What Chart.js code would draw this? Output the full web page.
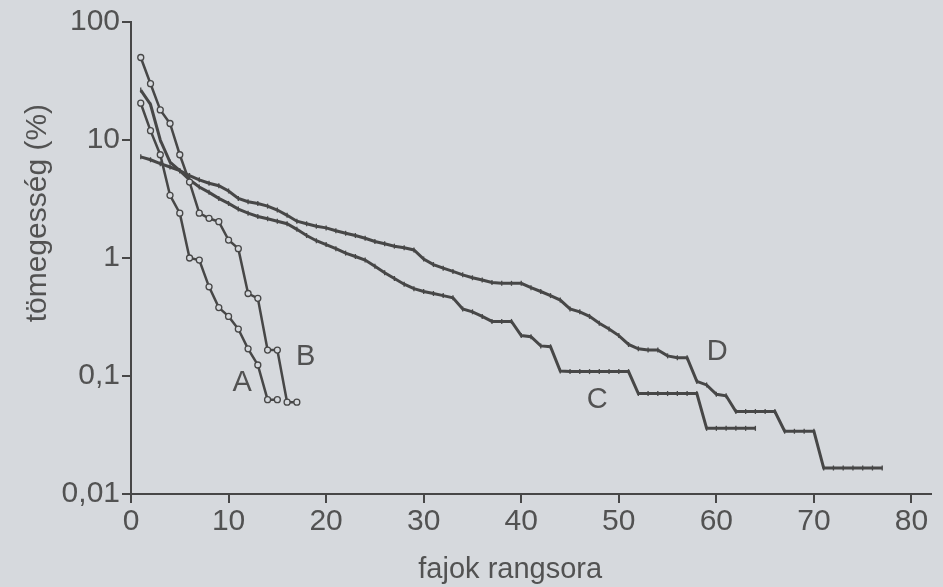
<!DOCTYPE html>
<html>
<head>
    <meta charset="utf-8">
    <title>Fajok rangsora</title>
    <script src="https://cdn.jsdelivr.net/npm/chart.js"></script>
    <style>
        body {
            margin: 0;
            background-color: #d6d9dd;
        }
        #wrap {
            width: 943px;
            height: 587px;
        }
    </style>
</head>
<body>
    <div id="wrap"><canvas id="rankChart"></canvas></div>

    <script>
        // tömegesség (%) by rank, one value per species rank starting at 1
        const seriesA = [20.5, 12, 7.5, 3.4, 2.4, 1.0, 0.96, 0.57, 0.38, 0.32, 0.25, 0.17, 0.124, 0.063, 0.063];
        const seriesB = [50, 30, 18, 13.8, 7.5, 4.4, 2.4, 2.17, 2.03, 1.42, 1.2, 0.5, 0.455, 0.166, 0.166, 0.06, 0.06];
        const seriesC = [26.5, 20, 10, 6.5, 5.5, 4.6, 4.0, 3.6, 3.2, 2.9,
            2.6, 2.4, 2.25, 2.15, 2.05, 1.95, 1.75, 1.55, 1.4, 1.3,
            1.2, 1.1, 1.03, 0.96, 0.85, 0.75, 0.67, 0.6, 0.55, 0.52,
            0.5, 0.48, 0.46, 0.37, 0.35, 0.32, 0.29, 0.29, 0.29, 0.22,
            0.215, 0.18, 0.177, 0.11, 0.109, 0.109, 0.109, 0.109, 0.109, 0.109,
            0.109, 0.071, 0.071, 0.071, 0.071, 0.071, 0.071, 0.071, 0.036, 0.036,
            0.036, 0.036, 0.036, 0.036];
        const seriesD = [7.2, 6.8, 6.3, 5.9, 5.5, 5.0, 4.6, 4.3, 4.1, 3.7,
            3.2, 3.0, 2.9, 2.75, 2.55, 2.3, 2.05, 1.95, 1.86, 1.8,
            1.7, 1.62, 1.55, 1.47, 1.38, 1.32, 1.26, 1.22, 1.17, 0.98,
            0.88, 0.82, 0.77, 0.72, 0.68, 0.65, 0.62, 0.61, 0.61, 0.61,
            0.56, 0.52, 0.48, 0.44, 0.37, 0.35, 0.32, 0.28, 0.25, 0.22,
            0.185, 0.17, 0.166, 0.166, 0.148, 0.143, 0.143, 0.09, 0.084, 0.07,
            0.068, 0.05, 0.05, 0.05, 0.05, 0.05, 0.034, 0.034, 0.034, 0.034,
            0.0166, 0.0166, 0.0166, 0.0166, 0.0166, 0.0166, 0.0166];

        const xTicks = [0, 10, 20, 30, 40, 50, 60, 70, 80];
        const yTicks = [0.01, 0.1, 1, 10, 100];
        const xTitle = 'fajok rangsora';
        const yTitle = 'tömegesség (%)';

        // curve names written next to the lines (rank, value)
        const curveNames = ['A', 'B', 'C', 'D'];
        const curveNameRank = [11.4, 17.9, 47.8, 60.1];
        const curveNameValue = [0.087, 0.145, 0.063, 0.16];

        const BG = '#d6d9dd';
        const INK = '#474747';
        const TEXT = '#525252';
        const FONT = "'Liberation Sans', Arial, sans-serif";

        function toPoints(values) {
            return values.map((v, i) => ({ x: i + 1, y: v }));
        }

        const background = {
            id: 'background',
            beforeDraw(chart) {
                const c = chart.ctx;
                c.save();
                c.fillStyle = BG;
                c.fillRect(0, 0, chart.width, chart.height);
                c.restore();
            }
        };

        // curve letters plus the two axis titles (the originals sit off-centre)
        const annotations = {
            id: 'annotations',
            afterDraw(chart) {
                const c = chart.ctx;
                const xs = chart.scales.x, ys = chart.scales.y;
                const area = chart.chartArea;
                c.save();
                c.fillStyle = TEXT;
                c.textAlign = 'center';
                c.textBaseline = 'middle';
                c.font = '29px ' + FONT;
                curveNames.forEach((name, i) => {
                    c.fillText(name, xs.getPixelForValue(curveNameRank[i]), ys.getPixelForValue(curveNameValue[i]));
                });

                c.font = '29px ' + FONT;
                c.fillText(xTitle, area.left + (area.right - area.left) * 0.474, chart.height - 17);

                c.translate(38, area.top + (area.bottom - area.top) * 0.405);
                c.rotate(-Math.PI / 2);
                c.font = '30px ' + FONT;
                c.fillText(yTitle, 0, 0);
                c.restore();
            }
        };

        const circleSet = (values) => ({
            data: toPoints(values),
            borderColor: INK,
            borderWidth: 2.5,
            pointStyle: 'circle',
            pointRadius: 3,
            pointBorderWidth: 1.3,
            pointBackgroundColor: BG,
            pointBorderColor: INK
        });

        const tickSet = (values) => ({
            data: toPoints(values),
            borderColor: INK,
            borderWidth: 3,
            pointStyle: 'line',
            rotation: 90,
            pointRadius: 2.5,
            pointBorderWidth: 1.3,
            pointBorderColor: INK
        });

        var ctx = document.getElementById('rankChart').getContext('2d');
        var rankChart = new Chart(ctx, {
            type: 'line',
            data: {
                datasets: [
                    Object.assign({ label: 'A' }, circleSet(seriesA)),
                    Object.assign({ label: 'B' }, circleSet(seriesB)),
                    Object.assign({ label: 'C' }, tickSet(seriesC)),
                    Object.assign({ label: 'D' }, tickSet(seriesD))
                ]
            },
            options: {
                responsive: true,
                maintainAspectRatio: false,
                animation: false,
                layout: {
                    padding: { top: 22, right: 12, left: 0, bottom: 0 }
                },
                plugins: {
                    legend: { display: false },
                    tooltip: { enabled: false }
                },
                scales: {
                    x: {
                        type: 'linear',
                        min: 0,
                        max: 82,
                        border: { color: INK, width: 2 },
                        grid: { drawOnChartArea: false, drawTicks: true, tickLength: 9, color: INK, lineWidth: 2 },
                        afterBuildTicks: s => { s.ticks = xTicks.map(v => ({ value: v })); },
                        ticks: {
                            color: TEXT,
                            font: { family: FONT, size: 30 },
                            padding: 1,
                            maxRotation: 0
                        },
                        afterFit: s => { s.height = 93; }
                    },
                    y: {
                        type: 'logarithmic',
                        min: 0.01,
                        max: 100,
                        border: { color: INK, width: 2 },
                        grid: { drawOnChartArea: false, drawTicks: true, tickLength: 9, color: INK, lineWidth: 2 },
                        afterBuildTicks: s => { s.ticks = yTicks.map(v => ({ value: v })); },
                        ticks: {
                            color: TEXT,
                            font: { family: FONT, size: 30 },
                            padding: 2,
                            callback: v => String(v).replace('.', ',')
                        },
                        afterFit: s => { s.width = 131; }
                    }
                }
            },
            plugins: [background, annotations]
        });
    </script>
</body>
</html>
